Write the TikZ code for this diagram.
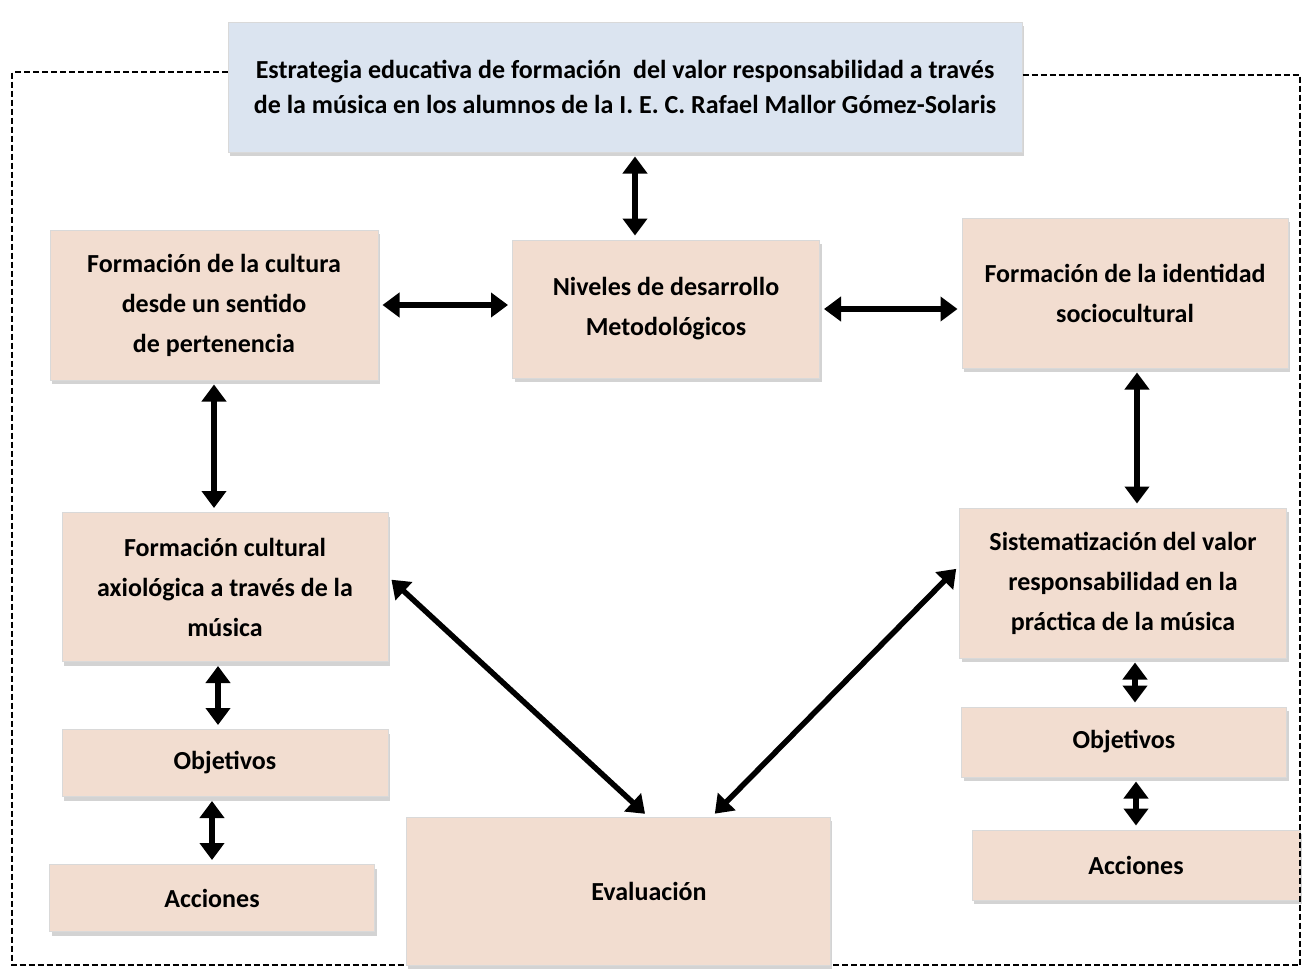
\documentclass[tikz,border=0pt]{standalone}
\usepackage{fontspec}
\setmainfont{Carlito}
\usetikzlibrary{arrows.meta,shadows}
\definecolor{peach}{RGB}{242,221,208}
\definecolor{paleblue}{RGB}{219,228,240}
\begin{document}
\begin{tikzpicture}[x=1pt,y=-1pt,
    box/.style={draw=white!85!black, line width=1pt, fill=peach, align=center,
        font=\fontsize{26}{40}\selectfont\bfseries,
        drop shadow={shadow xshift=2pt, shadow yshift=-4pt, opacity=0.35}},
    link/.style={line width=5.5pt, {Triangle[length=17pt,width=24pt]}-{Triangle[length=17pt,width=24pt]}, shorten <=4pt, shorten >=4pt},
    frame/.style={line width=1.8pt, dash pattern=on 6pt off 3pt}]
    \useasboundingbox (0,0) rectangle (1306,970);
    \node[box, fill=paleblue, minimum width=794, minimum height=130, font=\fontsize{26}{35}\selectfont\bfseries] (top) at (625,87)
        {Estrategia educativa de formación \ del valor responsabilidad a través\\de la música en los alumnos de la I. E. C. Rafael Mallor Gómez-Solaris};
    \node[box, minimum width=328, minimum height=150] (cultura) at (214,305) {Formación de la cultura\\desde un sentido\\de pertenencia};
    \node[box, minimum width=307, minimum height=138] (niveles) at (666,309) {Niveles de desarrollo\\Metodológicos};
    \node[box, minimum width=326, minimum height=150] (identidad) at (1125,293) {Formación de la identidad\\sociocultural};
    \node[box, minimum width=326, minimum height=149] (axiol) at (225,587) {Formación cultural\\axiológica a través de la\\música};
    \node[box, minimum width=327, minimum height=150] (sistem) at (1123,583) {Sistematización del valor\\responsabilidad en la\\práctica de la música};
    \node[box, minimum width=326, minimum height=67] (objL) at (225,763) {Objetivos};
    \node[box, minimum width=325, minimum height=67] (accL) at (212,898) {Acciones};
    \node[box, minimum width=424, minimum height=148] (eval) at (618,891) {\hspace*{62pt}Evaluación};
    \node[box, minimum width=325, minimum height=70] (objR) at (1124,742) {Objetivos};
    \node[box, minimum width=328, minimum height=70] (accR) at (1136,865) {Acciones};
    \draw[link] ([xshift=10]top.south) -- ([xshift=-31]niveles.north);
    \draw[link] (cultura.east) -- (cultura.east -| niveles.west);
    \draw[link] (niveles.east) -- (niveles.east -| identidad.west);
    \draw[link] (cultura.south) -- (cultura.south |- axiol.north);
    \draw[link] ([xshift=12]identidad.south) -- ([xshift=14]sistem.north);
    \draw[link] ([xshift=-7]axiol.south) -- ([xshift=-7]objL.north);
    \draw[link] ([xshift=-13]objL.south) -- ([xshift=0]accL.north);
    \draw[link] ([xshift=12]sistem.south) -- ([xshift=11]objR.north);
    \draw[link] ([xshift=12]objR.south) -- ([xshift=0]accR.north);
    \draw[link] ([yshift=10]axiol.east) -- ([xshift=30]eval.north);
    \draw[link] ([yshift=17]sistem.west) -- ([xshift=94]eval.north);
    \draw[frame] (top.west |- 0,72) -- (12,72) -- (12,965) -- (eval.west |- 0,965);
    \draw[frame] (top.east |- 0,75) -- (1300,75) -- (1300,965) -- (eval.east |- 0,965);
\end{tikzpicture}
\end{document}
